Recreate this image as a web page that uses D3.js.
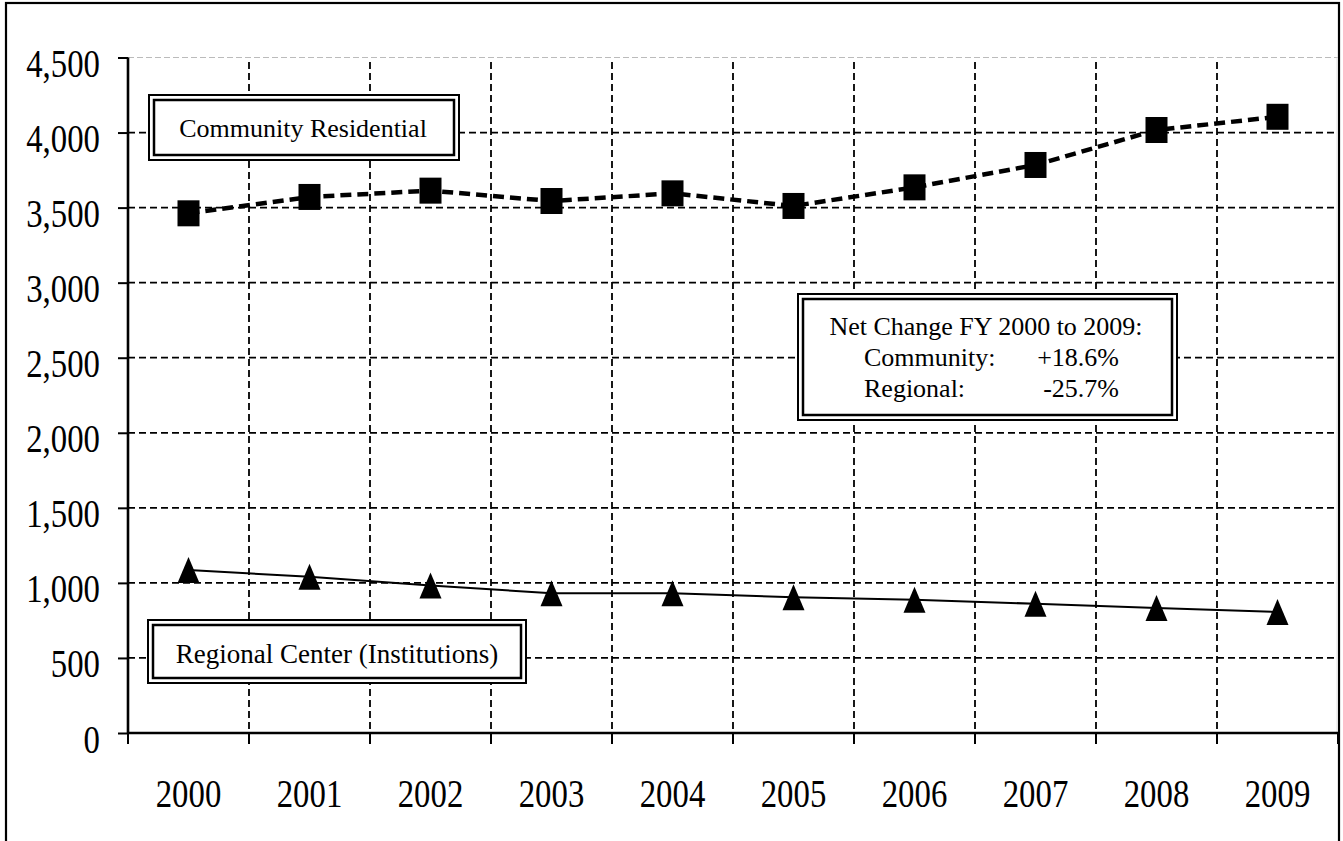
<!DOCTYPE html>
<html>
<head>
<meta charset="utf-8">
<script src="https://cdn.jsdelivr.net/npm/d3@7"></script>
<style>
  body { margin: 0; background: #fff; }
  svg { display: block; }
  text { font-family: "Liberation Serif", "Times New Roman", serif; fill: #000; }
</style>
</head>
<body>
<script>
'use strict';

// chart data
const years = ["2000", "2001", "2002", "2003", "2004", "2005", "2006", "2007", "2008", "2009"];
const community = [3462, 3571, 3613, 3544, 3595, 3511, 3635, 3784, 4017, 4105];
const regional = [1086, 1041, 983, 931, 931, 904, 887, 861, 833, 806];
const yTicks = [0, 500, 1000, 1500, 2000, 2500, 3000, 3500, 4000, 4500];
const netLines = [["Community:", "+18.6%"], ["Regional:", "-25.7%"]];

(function() {
  const width = 1343, height = 841;
  const left = 128, right = 1338, top = 57.5, bottom = 733;

  const svg = d3.select('body')
    .append('svg')
    .attr('width', width)
    .attr('height', height);

  // outer frame
  svg.append('rect')
    .attr('x', 6).attr('y', 3)
    .attr('width', 1333).attr('height', 860)
    .attr('fill', 'none')
    .attr('stroke', '#000')
    .attr('stroke-width', 2.2);

  let xScale = d3.scaleBand().domain(years).range([left, right]);
  let yScale = d3.scaleLinear().domain([0, 4500]).range([bottom, top]);
  const bw = xScale.bandwidth();

  // horizontal grid lines
  svg.append('g').selectAll('line')
    .data(yTicks.filter(d => d > 0))
    .enter()
    .append('line')
      .attr('x1', left).attr('x2', right)
      .attr('y1', d => yScale(d)).attr('y2', d => yScale(d))
      .attr('stroke', d => d === 4500 ? '#bbb' : '#000')
      .attr('stroke-width', d => d === 4500 ? 1 : 1.8)
      .attr('stroke-dasharray', d => d === 4500 ? '6,3' : '7,4');

  // vertical grid lines at category boundaries
  svg.append('g').selectAll('line')
    .data(years.slice(1))
    .enter()
    .append('line')
      .attr('x1', d => xScale(d)).attr('x2', d => xScale(d))
      .attr('y1', 62).attr('y2', bottom)
      .attr('stroke', '#000')
      .attr('stroke-width', 1.8)
      .attr('stroke-dasharray', '7,4');

  // faint right edge of plot area
  svg.append('line')
    .attr('x1', right - 1).attr('x2', right - 1)
    .attr('y1', top).attr('y2', bottom)
    .attr('stroke', '#e4e4e4')
    .attr('stroke-width', 1);

  // y axis
  let yAxis = d3.axisLeft(yScale)
    .tickValues(yTicks)
    .tickSize(10)
    .tickFormat(d3.format(','));
  let yg = svg.append('g')
    .attr('transform', 'translate(' + left + ',0)')
    .call(yAxis);
  yg.select('.domain').remove();
  yg.selectAll('.tick line').attr('stroke', '#000').attr('stroke-width', 2);
  yg.selectAll('.tick text')
    .attr('x', null).attr('dy', null)
    .attr('text-anchor', 'end')
    .attr('transform', 'translate(-28,19) scale(0.82,1)')
    .style('font-size', '40px')
    .style('font-family', '"Liberation Serif", serif');
  svg.append('line')
    .attr('x1', left).attr('x2', left)
    .attr('y1', top).attr('y2', bottom)
    .attr('stroke', '#000').attr('stroke-width', 2.6);

  // x axis: ticks at category boundaries, labels centred in bands
  const bounds = years.map(d => xScale(d)).concat([right]);
  svg.append('g').selectAll('line')
    .data(bounds)
    .enter()
    .append('line')
      .attr('x1', d => d).attr('x2', d => d)
      .attr('y1', bottom).attr('y2', bottom + 11)
      .attr('stroke', '#000').attr('stroke-width', 2);
  svg.append('line')
    .attr('x1', left - 1).attr('x2', right)
    .attr('y1', bottom).attr('y2', bottom)
    .attr('stroke', '#000').attr('stroke-width', 2.6);
  svg.append('g').selectAll('text')
    .data(years)
    .enter()
    .append('text')
      .attr('text-anchor', 'middle')
      .attr('transform', d => 'translate(' + (xScale(d) + bw / 2) + ',807) scale(0.82,1)')
      .style('font-size', '40px')
      .text(d => d);

  const cx = (d, i) => xScale(years[i]) + bw / 2;

  // community residential series (dashed, squares)
  svg.append('path')
    .datum(community)
    .attr('fill', 'none')
    .attr('stroke', '#000')
    .attr('stroke-width', 4.5)
    .attr('stroke-dasharray', '11,6')
    .attr('d', d3.line().x(cx).y(d => yScale(d)));
  svg.append('g').selectAll('rect')
    .data(community)
    .enter()
    .append('rect')
      .attr('x', (d, i) => cx(d, i) - 11)
      .attr('y', d => yScale(d) - 13)
      .attr('width', 22).attr('height', 26)
      .attr('fill', '#000');

  // regional center series (solid, triangles)
  svg.append('path')
    .datum(regional)
    .attr('fill', 'none')
    .attr('stroke', '#000')
    .attr('stroke-width', 2)
    .attr('d', d3.line().x(cx).y(d => yScale(d)));
  svg.append('g').selectAll('path')
    .data(regional)
    .enter()
    .append('path')
      .attr('d', (d, i) => {
        let x = cx(d, i), y = yScale(d);
        return 'M' + x + ',' + (y - 13) + 'L' + (x + 11) + ',' + (y + 13) + 'L' + (x - 11) + ',' + (y + 13) + 'Z';
      })
      .attr('fill', '#000');

  // boxed labels with double border
  function doubleBox(x0, y0, x1, y1) {
    let g = svg.append('g');
    g.append('rect')
      .attr('x', x0).attr('y', y0)
      .attr('width', x1 - x0).attr('height', y1 - y0)
      .attr('fill', '#fff').attr('stroke', '#000').attr('stroke-width', 2);
    g.append('rect')
      .attr('x', x0 + 5).attr('y', y0 + 5)
      .attr('width', x1 - x0 - 10).attr('height', y1 - y0 - 10)
      .attr('fill', 'none').attr('stroke', '#000').attr('stroke-width', 2.5);
    return g;
  }

  doubleBox(149, 95, 459, 160)
    .append('text')
      .attr('x', 303).attr('y', 137)
      .attr('text-anchor', 'middle')
      .style('font-size', '26px')
      .text('Community Residential');

  doubleBox(148, 620, 526, 683)
    .append('text')
      .attr('x', 337).attr('y', 663)
      .attr('text-anchor', 'middle')
      .style('font-size', '27px')
      .text('Regional Center (Institutions)');

  let net = doubleBox(798, 294, 1177, 420);
  net.append('text')
    .attr('x', 986).attr('y', 335)
    .attr('text-anchor', 'middle')
    .style('font-size', '26px')
    .text('Net Change FY 2000 to 2009:');
  net.selectAll('.lbl')
    .data(netLines)
    .enter()
    .append('text')
      .attr('class', 'lbl')
      .attr('x', 864)
      .attr('y', (d, i) => 366 + i * 31)
      .style('font-size', '26px')
      .text(d => d[0]);
  net.selectAll('.val')
    .data(netLines)
    .enter()
    .append('text')
      .attr('class', 'val')
      .attr('x', 1119)
      .attr('y', (d, i) => 366 + i * 31)
      .attr('text-anchor', 'end')
      .style('font-size', '26px')
      .text(d => d[1]);
})();
</script>
</body>
</html>
